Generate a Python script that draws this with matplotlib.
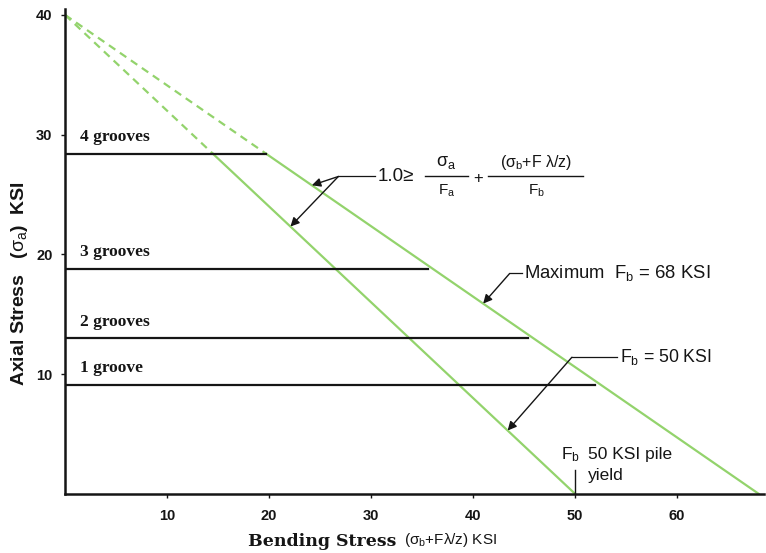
import matplotlib.pyplot as plt

plt.rcParams['mathtext.fontset'] = 'custom'
plt.rcParams['mathtext.rm'] = 'Liberation Sans'
plt.rcParams['mathtext.it'] = 'Liberation Sans'
plt.rcParams['mathtext.bf'] = 'Liberation Sans:bold'

# interaction lines (KSI)
axial_max = 40
fb_max = 68       # maximum Fb
fb_yield = 50     # Fb = pile yield

groove_labels = ['4 grooves', '3 grooves', '2 grooves', '1 groove']
groove_stress = [28.4, 18.8, 13.0, 9.1]
groove_end = [19.7, 35.6, 45.4, 52.0]

xticks = [10, 20, 30, 40, 50, 60]
yticks = [10, 20, 30, 40]

GREEN = '#93d36c'
INK = '#151515'
SANS = 'Liberation Sans'
SERIF = 'Liberation Serif'


def on_line(fb, x):
    '''axial stress on the interaction line at bending stress x'''
    return axial_max * (1 - x / fb)


def x_at(fb, y):
    return fb * (1 - y / axial_max)


fig = plt.figure(figsize=(7.66, 5.53), dpi=100)
ax = fig.add_axes([0.0849, 0.1072, 0.912, 0.8767])

# green interaction lines, dashed above the 4 groove level
top = groove_stress[0]
for fb in (fb_max, fb_yield):
    xb = x_at(fb, top)
    ax.plot([0, xb], [axial_max, top], color=GREEN, lw=1.6,
            ls=(0, (3.5, 2.5)), zorder=2)
    ax.plot([xb, fb], [top, 0], color=GREEN, lw=1.6, zorder=2)

# groove levels
for lab, ys, xe in zip(groove_labels, groove_stress, groove_end):
    ax.plot([0, xe], [ys, ys], color=INK, lw=1.6, zorder=3)
    ax.text(1.5, ys + 0.7, lab, family=SERIF, fontweight='bold',
            fontsize=12.5, va='bottom', ha='left', color=INK)

arrow = dict(arrowstyle='-|>', color=INK, lw=1.0,
             mutation_scale=13, shrinkA=0, shrinkB=0)
lead = dict(color=INK, lw=0.9)

# interaction formula, written out as two fractions
cx, cy = 26.8, 26.5
ax.plot([cx, 30.4], [cy, cy], **lead)
for fb, xh in ((fb_max, 24.2), (fb_yield, 22.1)):
    ax.annotate('', xy=(xh, on_line(fb, xh)), xytext=(cx, cy),
                arrowprops=arrow)
ftxt = dict(family=SANS, color=INK, ha='center', va='center')
ax.text(30.7, cy, '1.0\u2265', fontsize=13.5, **{**ftxt, 'ha': 'left'})
ax.plot([35.3, 39.5], [cy, cy], color=INK, lw=1.0)
ax.text(37.4, cy + 1.2, r'$\sigma_a$', fontsize=13, **ftxt)
ax.text(37.4, cy - 1.2, r'F$_\mathregular{a}$', fontsize=11, **ftxt)
ax.text(40.5, cy - 0.2, '+', fontsize=12, **ftxt)
ax.plot([41.5, 50.8], [cy, cy], color=INK, lw=1.0)
ax.text(46.2, cy + 1.2, r'($\sigma_b$+F $\lambda$/z)', fontsize=11.5,
        **ftxt)
ax.text(46.2, cy - 1.2, r'F$_\mathregular{b}$', fontsize=11, **ftxt)

# maximum Fb
cx, cy = 43.6, 18.4
ax.plot([cx, 44.8], [cy, cy], **lead)
ax.annotate('', xy=(41.0, on_line(fb_max, 41.0)), xytext=(cx, cy),
            arrowprops=arrow)
ax.text(45.0, cy, r'Maximum  F$_\mathregular{b}$ = 68 KSI', family=SANS,
        fontsize=13.3, va='center', ha='left', color=INK)

# Fb = 50
cx, cy = 49.7, 11.4
ax.plot([cx, 54.1], [cy, cy], **lead)
ax.annotate('', xy=(43.4, on_line(fb_yield, 43.4)), xytext=(cx, cy),
            arrowprops=arrow)
ax.text(54.4, cy, r'F$_\mathregular{b}$ = 50 KSI', family=SANS,
        fontsize=12.7, va='center', ha='left', color=INK)

# pile yield mark
ax.plot([fb_yield, fb_yield], [0, 2.0], color=INK, lw=1.0)
ax.text(48.6, 3.3, r'F$_\mathregular{b}$', family=SANS, fontsize=12.5,
        va='center', ha='left', color=INK)
ax.text(51.3, 3.3, '50 KSI pile', family=SANS, fontsize=12.5,
        va='center', ha='left', color=INK)
ax.text(51.3, 1.5, 'yield', family=SANS, fontsize=12.5,
        va='center', ha='left', color=INK)

# axes
ax.set_xlim(0, 68.5)
ax.set_ylim(0, 40.5)
ax.set_xticks(xticks)
ax.set_yticks(yticks)
for s in ('top', 'right'):
    ax.spines[s].set_visible(False)
for s in ('left', 'bottom'):
    ax.spines[s].set_linewidth(1.8)
    ax.spines[s].set_color(INK)
ax.tick_params(direction='out', length=3, width=1, pad=8,
               labelsize=10.5, colors=INK)
ax.tick_params(axis='y', pad=6)
for lbl in ax.get_xticklabels() + ax.get_yticklabels():
    lbl.set_fontweight('bold')
    lbl.set_family(SANS)

fig.text(0.324, 0.006, 'Bending Stress', family='DejaVu Serif',
         fontweight='bold', fontsize=12.5, ha='left', va='bottom', color=INK)
fig.text(0.527, 0.008, r'($\sigma_b$+F$\lambda$/z) KSI', family=SANS,
         fontsize=11, ha='left', va='bottom', color=INK)
fig.text(0.012, 0.488, r'Axial Stress   ($\sigma_a$)  KSI', family=SANS,
         fontweight='bold', fontsize=14, rotation=90, ha='left',
         va='center', color=INK)

fig.savefig('out.png', dpi=100)
